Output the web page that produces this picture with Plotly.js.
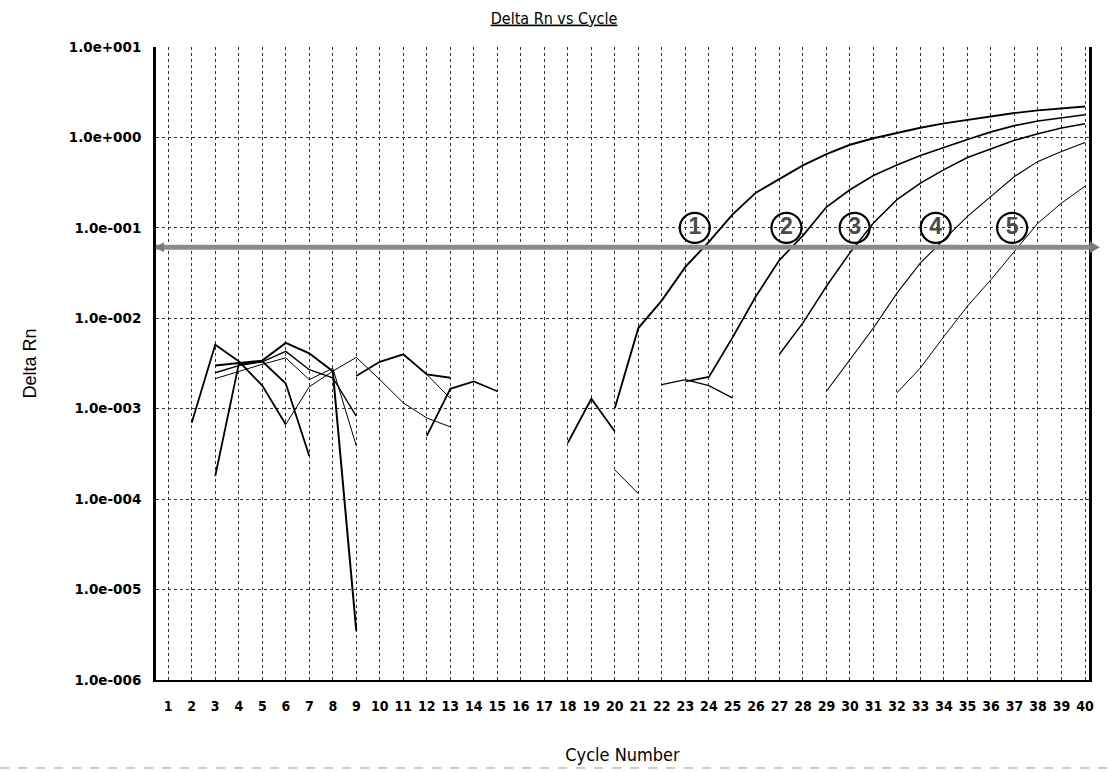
<!DOCTYPE html>
<html><head><meta charset="utf-8">
<script src="https://cdn.plot.ly/plotly-3.0.1.min.js"></script>
<style>html,body{margin:0;padding:0;background:#fff}#chart{width:1108px;height:773px}</style>
</head><body><div id="chart"></div>
<script>
// ---- data ----
const cycleTicks = [1,2,3,4,5,6,7,8,9,10,11,12,13,14,15,16,17,18,19,20,21,22,23,24,25,26,27,28,29,30,31,32,33,34,35,36,37,38,39,40];
const cycleTickLabels = ['1','2','3','4','5','6','7','8','9','10','11','12','13','14','15','16','17','18','19','20','21','22','23','24','25','26','27','28','29','30','31','32','33','34','35','36','37','38','39','40'];
const yTickValues = [1e-6, 1e-5, 1e-4, 1e-3, 1e-2, 1e-1, 1, 10];
const yTickLabels = ['1.0e-006','1.0e-005','1.0e-004','1.0e-003','1.0e-002','1.0e-001','1.0e+000','1.0e+001'];
const threshold = 0.061;

// amplification curves
const amp1Cycles = [20,21,22,23,24,25,26,27,28,29,30,31,32,33,34,35,36,37,38,39,40];
const amp1Values = [0.00102,0.0078,0.0158,0.037,0.070,0.14,0.245,0.35,0.49,0.655,0.83,0.98,1.13,1.28,1.43,1.57,1.72,1.86,1.99,2.11,2.2];
const amp2Cycles = [23,24,25,26,27,28,29,30,31,32,33,34,35,36,37,38,39,40];
const amp2Values = [0.0020,0.00225,0.0061,0.0175,0.044,0.082,0.17,0.264,0.38,0.495,0.63,0.78,0.95,1.15,1.35,1.52,1.66,1.78];
const amp3Cycles = [27,28,29,30,31,32,33,34,35,36,37,38,39,40];
const amp3Values = [0.0040,0.0089,0.0226,0.053,0.113,0.205,0.313,0.44,0.6,0.75,0.93,1.1,1.27,1.42];
const amp4Cycles = [29,30,31,32,33,34,35,36,37,38,39,40];
const amp4Values = [0.00156,0.0035,0.0078,0.019,0.041,0.074,0.134,0.223,0.37,0.543,0.70,0.88];
const amp5Cycles = [32,33,34,35,36,37,38,39,40];
const amp5Values = [0.0015,0.00283,0.0063,0.0136,0.0268,0.055,0.113,0.188,0.288];

// baseline noise segments
const noise1Cycles = [2,3,4,5,6];
const noise1Values = [0.00070,0.0051,0.00335,0.0018,0.00067];
const noise2Cycles = [6,7,8,9,10,11,12,13];
const noise2Values = [0.00067,0.00175,0.0026,0.0037,0.0021,0.00116,0.00079,0.00063];
const noise3Cycles = [3,4,5,6,7];
const noise3Values = [0.00018,0.0031,0.00335,0.0019,0.00030];
const noise4Cycles = [3,4,5,6,7,8,9];
const noise4Values = [0.0030,0.0032,0.0034,0.00535,0.0041,0.0026,0.0000035];
const noise5Cycles = [3,4,5,6,7,8,9];
const noise5Values = [0.0025,0.0030,0.0033,0.0043,0.0027,0.0022,0.00083];
const noise6Cycles = [3,4,5,6,7,8,9];
const noise6Values = [0.00215,0.0026,0.0031,0.00365,0.0021,0.0028,0.00039];
const noise7Cycles = [9,10,11,12,13];
const noise7Values = [0.0023,0.0033,0.0040,0.0024,0.0022];
const noise8Cycles = [11,12,13];
const noise8Values = [0.0040,0.0024,0.0013];
const noise9Cycles = [12,13,14,15];
const noise9Values = [0.00050,0.00166,0.0020,0.00156];
const noise10Cycles = [18,19,20];
const noise10Values = [0.00042,0.00129,0.00056];
const noise11Cycles = [20,21];
const noise11Values = [0.00021,0.000115];
const noise12Cycles = [22,23,24,25];
const noise12Values = [0.00185,0.0021,0.0018,0.00132];

const labelTexts = ['1','2','3','4','5'];
const labelCycles = [23.4, 27.3, 30.2, 33.65, 36.9];
const labelLevels = [0.1, 0.1, 0.1, 0.1, 0.1];

// ---- traces ----
const series = [
  [noise1Cycles, noise1Values, 1.8],
  [noise2Cycles, noise2Values, 1.0],
  [noise3Cycles, noise3Values, 1.8],
  [noise4Cycles, noise4Values, 2.0],
  [noise5Cycles, noise5Values, 1.4],
  [noise6Cycles, noise6Values, 1.0],
  [noise7Cycles, noise7Values, 1.8],
  [noise8Cycles, noise8Values, 1.0],
  [noise9Cycles, noise9Values, 1.8],
  [noise10Cycles, noise10Values, 1.8],
  [noise11Cycles, noise11Values, 1.0],
  [noise12Cycles, noise12Values, 1.3],
  [amp1Cycles, amp1Values, 1.9],
  [amp2Cycles, amp2Values, 1.7],
  [amp3Cycles, amp3Values, 1.5],
  [amp4Cycles, amp4Values, 1.1],
  [amp5Cycles, amp5Values, 1.0]
];
const traces = series.map(s => ({
  x: s[0], y: s[1], type: 'scatter', mode: 'lines',
  line: {color: '#000', width: s[2]}, hoverinfo: 'x+y', showlegend: false
}));

// circled curve labels: open circle markers with a bold digit inside
traces.push({
  x: labelCycles, y: labelLevels, type: 'scatter', mode: 'markers+text',
  text: labelTexts.map(t => '<b>' + t + '</b>'), textposition: 'middle center',
  textfont: {family: 'Liberation Sans, Arial', size: 23, color: '#4a4a4a'},
  marker: {symbol: 'circle-open', size: 30, color: '#000', line: {width: 2.2, color: '#000'}},
  hoverinfo: 'skip', showlegend: false, cliponaxis: false
});

const layout = {
  width: 1108, height: 773,
  margin: {l: 156, r: 19, t: 47, b: 93},
  paper_bgcolor: '#fff', plot_bgcolor: '#fff',
  title: {
    text: '<span style="text-decoration:underline">Delta Rn vs Cycle</span>',
    x: 0.5, xref: 'container', xanchor: 'center',
    y: 1 - 18/773, yref: 'container', yanchor: 'middle',
    font: {family: 'DejaVu Sans Condensed, Liberation Sans, Arial', size: 16, color: '#000'}
  },
  xaxis: {
    range: [0.48, 40.17],
    tickmode: 'array', tickvals: cycleTicks, ticktext: cycleTickLabels,
    tickfont: {family: 'DejaVu Sans Condensed, Liberation Sans, Arial', size: 14, color: '#000', weight: 'bold'},
    ticks: '', ticklabelstandoff: 12,
    showgrid: true, gridcolor: '#333', gridwidth: 1, griddash: 'dot',
    showline: true, linecolor: '#000', linewidth: 2, mirror: false,
    zeroline: false,
    title: {text: 'Cycle Number', standoff: 36,
      font: {family: 'DejaVu Sans Condensed, Liberation Sans, Arial', size: 18, color: '#000'}}
  },
  yaxis: {
    type: 'log', range: [-6, 1],
    tickmode: 'array', tickvals: yTickValues, ticktext: yTickLabels,
    tickfont: {family: 'DejaVu Sans', size: 13.5, color: '#000', weight: 'bold'},
    ticks: '', ticklabelstandoff: 9,
    showgrid: true, gridcolor: '#333', gridwidth: 1, griddash: 'dot',
    showline: true, linecolor: '#000', linewidth: 3, mirror: true,
    zeroline: false,
    title: {text: 'Delta Rn', standoff: 28,
      font: {family: 'Liberation Sans, Arial', size: 18, color: '#000'}}
  },
  shapes: [
    {type: 'line', xref: 'paper', x0: 0, x1: 1.004, yref: 'y', y0: threshold, y1: threshold,
     line: {color: '#8a8a8a', width: 5}},
    {type: 'path', xref: 'paper', xsizemode: 'pixel', xanchor: 1.004,
     yref: 'y', ysizemode: 'pixel', yanchor: threshold,
     path: 'M -3 -6 L 7 0 L -3 6 Z', fillcolor: '#7a7a7a', line: {width: 0}},
    {type: 'path', xref: 'paper', xsizemode: 'pixel', xanchor: 0,
     yref: 'y', ysizemode: 'pixel', yanchor: threshold,
     path: 'M 8 -5 L -1 0 L 8 5 Z', fillcolor: '#7a7a7a', line: {width: 0}},
    {type: 'line', xref: 'paper', x0: -0.167, x1: 1.02, yref: 'paper', y0: -0.139, y1: -0.139,
     line: {color: '#999', width: 1, dash: 'dash'}}
  ]
};

Plotly.newPlot('chart', traces, layout, {displayModeBar: false, staticPlot: true});
</script>
</body></html>
